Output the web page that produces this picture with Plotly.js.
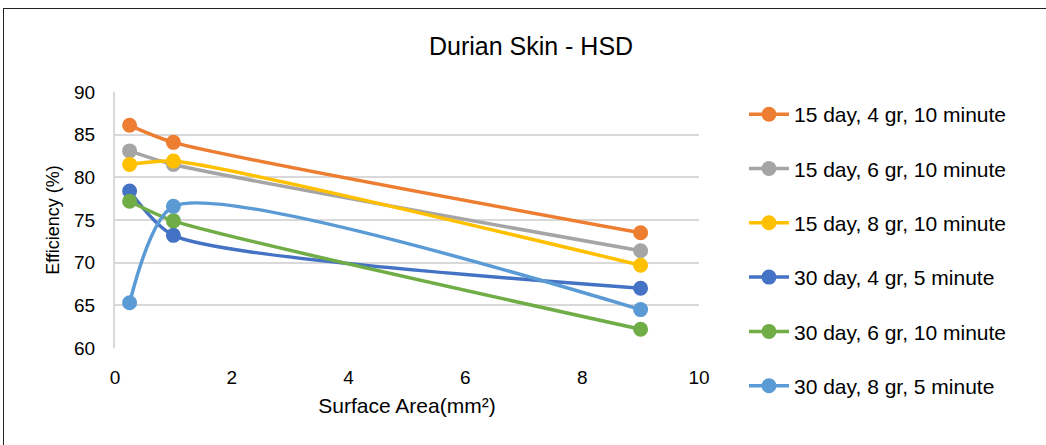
<!DOCTYPE html>
<html>
<head>
<meta charset="utf-8">
<script src="https://cdn.plot.ly/plotly-3.0.1.min.js"></script>
<style>
  html, body { margin: 0; padding: 0; background: #fff; }
  #chart { width: 1046px; height: 445px; }
  #frame { position: absolute; left: 3px; top: 8px; width: 1100px; height: 500px;
           border: 1.5px solid #222; pointer-events: none; }
</style>
</head>
<body>
<div id="chart"></div>
<div id="frame"></div>
<script>
const surfaceArea = [0.25, 1, 9];
const seriesNames = [
  "15 day, 4 gr, 10 minute",
  "15 day, 6 gr, 10 minute",
  "15 day, 8 gr, 10 minute",
  "30 day, 4 gr, 5 minute",
  "30 day, 6 gr, 10 minute",
  "30 day, 8 gr, 5 minute"
];
const s15d4g = [86.1, 84.1, 73.5];
const s15d6g = [83.1, 81.5, 71.4];
const s15d8g = [81.5, 81.9, 69.7];
const s30d4g = [78.4, 73.2, 67.0];
const s30d6g = [77.2, 74.9, 62.2];
const s30d8g = [65.3, 76.6, 64.5];
const seriesValues = [s15d4g, s15d6g, s15d8g, s30d4g, s30d6g, s30d8g];
const colors = ["#ED7D31", "#A5A5A5", "#FFC000", "#4472C4", "#70AD47", "#5B9BD5"];

const traces = seriesValues.map((vals, i) => ({
  x: surfaceArea,
  y: vals,
  name: seriesNames[i],
  legendgroup: "g" + i,
  type: "scatter",
  mode: "lines+markers",
  line: { color: colors[i], width: 3.5, shape: "spline", smoothing: 0.65 },
  marker: { color: colors[i], size: 15 }
}));

const font = "Liberation Sans, Arial, sans-serif";
const layout = {
  width: 1046, height: 445,
  margin: { l: 115, r: 347, t: 92, b: 97 },
  paper_bgcolor: "#fff", plot_bgcolor: "#fff",
  font: { family: font, color: "#000", size: 19 },
  title: { text: "Durian Skin - HSD", font: { family: font, size: 25, color: "#000" },
           x: 0.5077, xanchor: "center", y: 0.897, yanchor: "middle" },
  xaxis: {
    range: [0, 10], dtick: 2, tick0: 0,
    showgrid: false, zeroline: false,
    showline: false, ticks: "", ticklabelstandoff: 16,
    tickfont: { family: font, size: 19, color: "#000" },
    title: { text: "Surface Area(mm²)", font: { family: font, size: 21, color: "#000" }, standoff: 11 }
  },
  yaxis: {
    range: [60, 90], dtick: 5, tick0: 60,
    showgrid: true, gridcolor: "#D9D9D9", gridwidth: 2,
    zeroline: false, showline: true, linecolor: "#D9D9D9", linewidth: 2,
    ticks: "", ticklabelstandoff: 14,
    tickfont: { family: font, size: 19, color: "#000" },
    title: { text: "Efficiency (%)", font: { family: font, size: 18, color: "#000" }, standoff: 10 }
  },
  legend: {
    x: 1.077, xanchor: "left", y: 0.992, yanchor: "top",
    traceorder: "grouped", tracegroupgap: 24, maxheight: 430,
    font: { family: font, size: 21, color: "#000" },
    bgcolor: "rgba(0,0,0,0)", itemwidth: 40
  },
  showlegend: true
};

Plotly.newPlot("chart", traces, layout, { displayModeBar: false, staticPlot: true });
</script>
</body>
</html>
